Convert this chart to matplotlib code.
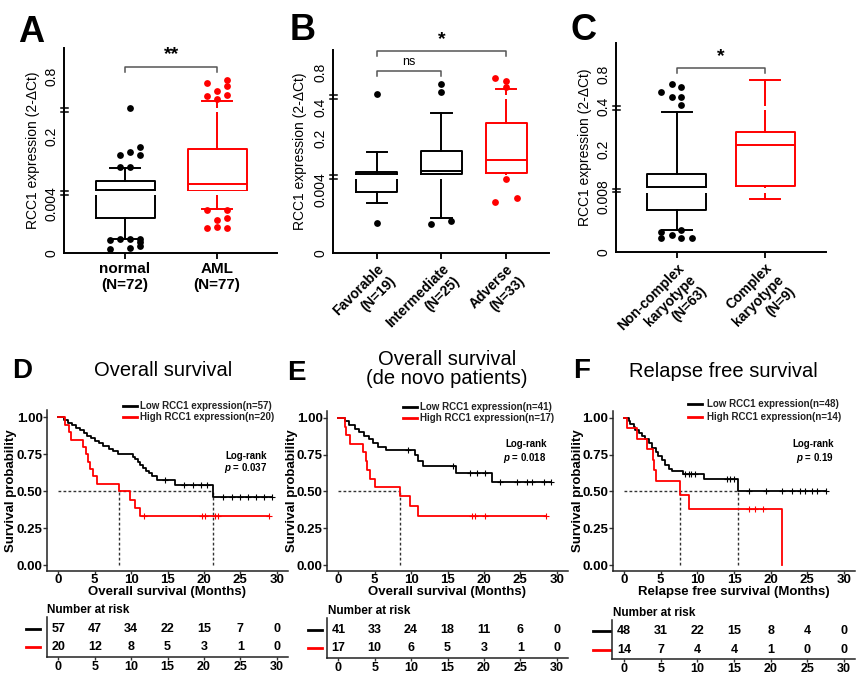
import numpy as np
import matplotlib
matplotlib.use('Agg')
import matplotlib.pyplot as plt
from matplotlib.lines import Line2D
from matplotlib.patches import Rectangle
from matplotlib.ticker import NullLocator
import matplotlib.transforms as mtransforms

plt.rcParams['font.family'] = ['Liberation Sans', 'DejaVu Sans']
plt.rcParams['mathtext.fontset'] = 'custom'
plt.rcParams['mathtext.it'] = 'Liberation Sans:italic:bold'
plt.rcParams['mathtext.rm'] = 'Liberation Sans:bold'

W, H = 865, 676
RED = '#ff0000'

# ---------------- box plots: RCC1 expression (2-dCt) ----------------
# summaries are [whislo, q1, med, q3, whishi]
a_groups = ['normal\n(N=72)', 'AML\n(N=77)']
a_normal = [0.00113, 0.00283, 0.0432, 0.0693, 0.107]
a_aml = [0.00353, 0.0412, 0.0598, 0.162, 0.55]
a_normal_out = [0.483, 0.169, 0.153, 0.145, 0.145, 0.111, 0.111,
                0.00111, 0.00111, 0.00111, 0.00105, 0.00091, 0.00057, 0.00038, 0.0003]
a_aml_out = [0.76, 0.727, 0.70, 0.653, 0.61, 0.603, 0.57,
             0.00347, 0.00347, 0.0028, 0.00267, 0.00213, 0.00204, 0.002]

b_groups = ['Favorable\n(N=19)', 'Intermediate\n(N=25)', 'Adverse\n(N=33)']
b_fav = [0.0032, 0.0039, 0.066, 0.073, 0.148]
b_int = [0.00224, 0.0643, 0.0768, 0.151, 0.363]
b_adv = [0.048, 0.067, 0.117, 0.299, 0.602]
b_fav_out = [0.545, 0.00193]
b_int_out = [0.663, 0.568, 0.00205, 0.00184]
b_adv_out = [0.728, 0.697, 0.625, 0.0459, 0.00351, 0.00326]

c_groups = ['Non-complex\nkaryotype\n(N=63)', 'Complex\nkaryotype\n(N=9)']
c_non = [0.0032, 0.00598, 0.0463, 0.101, 0.374]
c_cplx = [0.0076, 0.0517, 0.22, 0.28, 0.729]
c_non_out = [0.682, 0.640, 0.581, 0.514, 0.514, 0.42,
             0.0032, 0.00287, 0.00249, 0.00201, 0.00201, 0.00201]
c_cplx_out = []

# horizontal spread of the outlier dots (pixels), same order as above
a_normal_dx = [5, 15, 5, -5, 15, -5, 5, -5, 5, 15, -15, 15, 15, 5, -15]
a_aml_dx = [10, -10, 10, 0, 10, -10, 0, -10, 10, 10, 0, 0, 10, -10]
b_fav_dx = [0, 0]
b_int_dx = [0, 0, 10, -10]
b_adv_dx = [-11, 0, 0, 0, 11, -11]
c_non_dx = [-5, 4, -16, -5, 4, 4, 4, -16, -5, -16, 4, 15]
c_cplx_dx = []

# ---------------- Kaplan-Meier curves ----------------
# event times (months) and survival after each step
d_low_t = [0.8, 1.3, 1.9, 2.4, 3.0, 3.5, 4.0, 4.5, 5.0, 5.6, 6.2, 6.9, 7.5, 8.2,
           10.3, 10.6, 10.9, 11.2, 11.6, 12.0, 12.4, 12.9, 13.5, 16.0, 21.3]
d_low_s = [0.982, 0.965, 0.947, 0.930, 0.912, 0.895, 0.877, 0.860, 0.842, 0.825, 0.807,
           0.789, 0.772, 0.754, 0.735, 0.716, 0.697, 0.678, 0.659, 0.640, 0.621, 0.602,
           0.575, 0.545, 0.462]
d_low_cens = [14.6, 17.2, 18.5, 19.6, 20.4, 22.6, 23.8, 24.9, 26.0, 27.1, 28.2, 29.3]
d_high_t = [0.9, 1.5, 1.7, 3.4, 3.8, 4.1, 4.4, 4.8, 5.3, 8.4, 9.8, 10.5, 11.2]
d_high_s = [0.95, 0.90, 0.85, 0.80, 0.75, 0.70, 0.65, 0.60, 0.55, 0.50, 0.444, 0.389, 0.333]
d_high_cens = [11.8, 19.7, 20.2, 21.5, 22.0, 29.0]
d_risk_low = [57, 47, 34, 22, 15, 7, 0]
d_risk_high = [20, 12, 8, 5, 3, 1, 0]

e_low_t = [0.9, 1.5, 2.3, 2.9, 3.5, 4.2, 4.8, 5.5, 6.5, 10.5, 11.0, 11.7, 16.2, 21.1]
e_low_s = [0.976, 0.951, 0.927, 0.902, 0.878, 0.854, 0.829, 0.805, 0.780,
           0.745, 0.710, 0.675, 0.625, 0.562]
e_low_cens = [9.6, 15.8, 18.1, 19.0, 20.1, 22.2, 24.5, 25.9, 26.6, 28.2, 29.2]
e_high_t = [0.9, 1.1, 1.6, 3.4, 3.8, 4.0, 4.3, 5.0, 8.5, 9.8, 11.0]
e_high_s = [0.941, 0.882, 0.824, 0.765, 0.706, 0.647, 0.588, 0.529, 0.470, 0.403, 0.336]
e_high_cens = [18.3, 18.8, 20.1, 28.6]
e_risk_low = [41, 33, 24, 18, 11, 6, 0]
e_risk_high = [17, 10, 6, 5, 3, 1, 0]

f_low_t = [0.64, 0.86, 1.3, 1.55, 2.0, 2.45, 2.9, 3.4, 3.8, 4.3, 4.7, 5.2, 5.6, 6.1, 6.5,
           8.1, 10.9, 15.6]
f_low_s = [0.979, 0.958, 0.938, 0.917, 0.896, 0.875, 0.854, 0.827, 0.792, 0.767, 0.742,
           0.712, 0.681, 0.656, 0.637, 0.617, 0.585, 0.500]
f_low_cens = [8.3, 8.8, 9.2, 9.7, 14.0, 14.5, 15.0, 17.0, 19.3, 21.6, 22.9, 24.0, 24.7,
              25.6, 26.3, 27.5]
f_high_t = [0.4, 1.8, 3.1, 4.0, 4.1, 4.3, 7.7, 8.9, 21.6]
f_high_s = [0.929, 0.857, 0.786, 0.714, 0.643, 0.571, 0.476, 0.381, 0.0]
f_high_cens = [17.0, 17.9, 19.0]
f_risk_low = [48, 31, 22, 15, 8, 4, 0]
f_risk_high = [14, 7, 4, 4, 1, 0, 0]

risk_times = [0, 5, 10, 15, 20, 25, 30]


def frect(l, t, r, b):
    return [l / W, 1 - b / H, (r - l) / W, (b - t) / H]


def fpt(x, y):
    return x / W, 1 - y / H


fig = plt.figure(figsize=(W / 100, H / 100), dpi=100)


def seg_scale(kv, kp):
    # piecewise linear (segmented) axis like the GraphPad original
    kv = np.asarray(kv, float)
    kp = np.asarray(kp, float)
    s0 = (kp[1] - kp[0]) / (kv[1] - kv[0])
    s1 = (kp[-1] - kp[-2]) / (kv[-1] - kv[-2])
    kv = np.r_[kv[0] - 1, kv, kv[-1] + 10]
    kp = np.r_[kp[0] - s0, kp, kp[-1] + 10 * s1]
    return (lambda v: np.interp(v, kv, kp)), (lambda p: np.interp(p, kp, kv))


def box_panel(px, xlim, groups, boxes, colors, outs, dxs, knots, ticks, breaks,
              brackets, width, rotated, ylab_x):
    l, t, r, b = px
    ax = fig.add_axes(frect(l, t, r, b))
    fwd, inv = seg_scale(*knots)
    ax.set_yscale('function', functions=(fwd, inv))
    ax.set_xlim(*xlim)
    ax.set_ylim(0, knots[0][-1])
    sp = (r - l) / (xlim[1] - xlim[0])
    pos = np.arange(1, len(groups) + 1)
    for p, st, c, o, dx in zip(pos, boxes, colors, outs, dxs):
        d = dict(whislo=st[0], q1=st[1], med=st[2], q3=st[3], whishi=st[4], fliers=[])
        lp = dict(color=c, lw=1.4)
        ax.bxp([d], positions=[p], widths=width, showfliers=False, manage_ticks=False,
               boxprops=lp, whiskerprops=lp, capprops=lp, medianprops=lp)
        if len(o):
            ax.scatter(p + np.array(dx) / sp, o, s=24, color=c, lw=0, zorder=4, clip_on=False)
    hpx = b - t
    for f in breaks:
        ax.add_patch(Rectangle((0, f - 2.4 / hpx), 1, 4.8 / hpx, transform=ax.transAxes,
                               facecolor='white', edgecolor='none', zorder=2.3))
        for dy in (-1.7, 1.7):
            ax.add_line(Line2D([-3.5 / (r - l), 3.5 / (r - l)], [f + dy / hpx] * 2,
                               transform=ax.transAxes, color='black', lw=1.1,
                               clip_on=False, zorder=5))
    for s in ('top', 'right'):
        ax.spines[s].set_visible(False)
    for s in ('left', 'bottom'):
        ax.spines[s].set_linewidth(1.4)
    ax.set_yticks(ticks[0], labels=ticks[1])
    ax.yaxis.set_minor_locator(NullLocator())
    for lab in ax.get_yticklabels():
        lab.set_rotation(90)
        lab.set_va('center')
        lab.set_ha('right')
        lab.set_fontsize(10)
    ax.tick_params(axis='y', length=0, pad=4)
    ax.tick_params(axis='x', length=4, width=1.3, pad=2.5)
    ax.set_xticks(pos)
    if rotated:
        ax.set_xticklabels(groups, rotation=45, ha='right', va='top', rotation_mode='anchor',
                           ma='right', fontsize=10, fontweight='bold')
    else:
        ax.set_xticklabels(groups, fontsize=11, fontweight='bold')
    ax.set_ylabel('RCC1 expression (2-\u0394Ct)', fontsize=10, va='center')
    ax.yaxis.set_label_coords((ylab_x - l) / (r - l), 0.5)
    tr = mtransforms.blended_transform_factory(ax.transData, ax.transAxes)
    for i, j, yb, txt, yt, fs in brackets:
        tick = 5 / hpx
        ax.plot([pos[i], pos[i], pos[j], pos[j]], [yb - tick, yb, yb, yb - tick],
                transform=tr, color='#555555', lw=1.1, clip_on=False)
        ax.text((pos[i] + pos[j]) / 2, yt, txt, transform=tr, ha='center', va='center',
                fontsize=fs, fontweight='bold' if txt != 'ns' else 'normal')
    return ax


box_panel((64, 48, 277, 253), (0.337, 2.65), a_groups, [a_normal, a_aml], ['black', RED],
          [a_normal_out, a_aml_out], [a_normal_dx, a_aml_dx],
          ([0, 0.004, 0.2, 0.8, 1.08], [0, 49.5, 117, 177, 205]),
          ([0, 0.004, 0.2, 0.8], ['0', '0.004', '0.2', '0.8']),
          [60 / 205, 143 / 205],
          [(0, 1, 0.909, '**', 0.966, 14)], 0.64, False, 33)

box_panel((333, 50, 549, 253), (0.325, 3.66), b_groups, [b_fav, b_int, b_adv],
          ['black', 'black', RED], [b_fav_out, b_int_out, b_adv_out],
          [b_fav_dx, b_int_dx, b_adv_dx],
          ([0, 0.004, 0.2, 0.4, 0.8, 1.05], [0, 63, 115, 146, 181, 203]),
          ([0, 0.004, 0.2, 0.4, 0.8], ['0', '0.004', '0.2', '0.4', '0.8']),
          [76 / 203, 156 / 203],
          [(0, 1, 0.898, 'ns', 0.943, 9), (0, 2, 0.997, '*', 1.052, 14)], 0.63, True, 300)

box_panel((616, 43, 826, 252), (0.313, 2.687), c_groups, [c_non, c_cplx], ['black', RED],
          [c_non_out, c_cplx_out], [c_non_dx, c_cplx_dx],
          ([0, 0.008, 0.2, 0.4, 0.8, 1.2], [0, 55.7, 102.3, 145.7, 177.3, 209]),
          ([0, 0.008, 0.2, 0.4, 0.8], ['0', '0.008', '0.2', '0.4', '0.8']),
          [61.7 / 209, 144 / 209],
          [(0, 1, 0.880, '*', 0.937, 14)], 0.67, True, 585)


def km_curve(ax, t, s, end, cens, color):
    tt = np.r_[0, t, end]
    ss = np.r_[1, s, s[-1]]
    ax.step(tt, ss, where='post', color=color, lw=1.3, zorder=3)
    cs = np.asarray(cens)
    if len(cs):
        idx = np.searchsorted(tt, cs, side='right') - 1
        ax.plot(cs, ss[idx], ls='none', marker='+', ms=4, mew=0.8, color=color, zorder=3)
    for ti, si in zip(t, s):
        if si <= 0.5 + 1e-9:
            return ti
    return None


def km_panel(cfg):
    l, t, r, b = cfg['px']
    ax = fig.add_axes(frect(l, t, r, b))
    ax.set_xlim(-1.5, 31.5)
    ax.set_ylim(-0.04, 1.05)
    meds = []
    for (tt, ss, end, cens, col) in cfg['curves']:
        m = km_curve(ax, tt, ss, end, cens, col)
        if m is not None:
            meds.append(m)
    if meds:
        ax.plot([0, max(meds)], [0.5, 0.5], color='#333333', lw=1, ls=(0, (2, 1.6)), zorder=2)
        for m in meds:
            ax.plot([m, m], [0, 0.5], color='#333333', lw=1, ls=(0, (2, 1.6)), zorder=2)
    for s in ('top', 'right'):
        ax.spines[s].set_visible(False)
    for s in ('left', 'bottom'):
        ax.spines[s].set_linewidth(1.1)
        ax.spines[s].set_color('#222222')
    ax.set_xticks(risk_times)
    ax.set_yticks([0, 0.25, 0.5, 0.75, 1.0], labels=['0.00', '0.25', '0.50', '0.75', '1.00'])
    ax.tick_params(length=3, width=1, color='#333333', labelsize=9.5, pad=0.5)
    ax.tick_params(axis='x', length=2, pad=0)
    for lab in ax.get_xticklabels() + ax.get_yticklabels():
        lab.set_fontweight('bold')
    ax.set_xlabel(cfg['xlabel'], fontsize=9.5, fontweight='bold', va='center')
    ax.xaxis.set_label_coords(0.5, (b - 592) / (b - t))
    ax.set_ylabel('Survival probability', fontsize=9.5, fontweight='bold', va='center')
    ax.yaxis.set_label_coords((cfg['ylab_x'] - l) / (r - l), 0.5)

    # legend above the plot
    lx0, lx1, tx, y1, y2 = cfg['legend']
    for yy, col, txt in ((y1, 'black', cfg['leg'][0]), (y2, RED, cfg['leg'][1])):
        fig.add_artist(Line2D([lx0 / W, lx1 / W], [1 - yy / H] * 2, color=col, lw=2))
        fig.text(*fpt(tx, yy), txt, fontsize=7, fontweight='bold', color='#222222',
                 ha='left', va='center')
    rx, ry1, ry2 = cfg['logrank']
    fig.text(*fpt(rx, ry1), 'Log-rank', fontsize=7, fontweight='bold', ha='right', va='center')
    fig.text(*fpt(rx, ry2), r'$\mathit{p}$ = ' + cfg['p'], fontsize=7, fontweight='bold',
             ha='right', va='center')
    fig.text(*fpt(*cfg['title_xy']), cfg['title'], fontsize=14.5, ha='center', va='center',
             linespacing=1.05)
    fig.text(*fpt(*cfg['letter']), cfg['tag'], fontsize=20, fontweight='bold',
             ha='left', va='baseline')

    # number at risk table
    tl, tt_, tr_, tb = cfg['tpx']
    tax = fig.add_axes(frect(tl, tt_, tr_, tb))
    x0 = -1.5 + (tl - l) / ((r - l) / 33.0)
    tax.set_xlim(x0, 31.5)
    tax.set_ylim(-0.514, 1.656)
    for xi, nl, nh in zip(risk_times, cfg['risk'][0], cfg['risk'][1]):
        tax.text(xi, 1, str(nl), ha='center', va='center', fontsize=9, fontweight='bold')
        tax.text(xi, 0, str(nh), ha='center', va='center', fontsize=9, fontweight='bold')
    for s in ('top', 'right'):
        tax.spines[s].set_visible(False)
    for s in ('left', 'bottom'):
        tax.spines[s].set_linewidth(1.1)
        tax.spines[s].set_color('#222222')
    tax.set_yticks([])
    tax.set_xticks(risk_times)
    tax.tick_params(axis='x', length=2.5, width=1, color='#333333', labelsize=9, pad=0.5)
    for lab in tax.get_xticklabels():
        lab.set_fontweight('bold')
    d0, d1 = cfg['dash']
    trd = mtransforms.blended_transform_factory(fig.transFigure, tax.transData)
    for yy, col in ((1, 'black'), (0, RED)):
        tax.add_line(Line2D([d0 / W, d1 / W], [yy, yy], transform=trd, color=col, lw=2,
                            clip_on=False))
    fig.text(*fpt(*cfg['nar']), 'Number at risk', fontsize=8.5, fontweight='bold',
             ha='left', va='center')


km_panel(dict(px=(47.4, 410, 287.6, 571), tpx=(46.7, 617, 287.6, 656.7),
              curves=[(d_low_t, d_low_s, 29.3, d_low_cens, 'black'),
                      (d_high_t, d_high_s, 29.0, d_high_cens, RED)],
              risk=(d_risk_low, d_risk_high), xlabel='Overall survival (Months)',
              ylab_x=11.2, legend=(123, 137, 140, 406, 417.3),
              leg=('Low RCC1 expression(n=57)', 'High RCC1 expression(n=20)'),
              logrank=(267, 456, 468.3), p='0.037', title='Overall survival',
              title_xy=(163, 370), letter=(12, 378), tag='D', dash=(26, 40),
              nar=(47.3, 610)))

km_panel(dict(px=(327.4, 410.5, 567.6, 571), tpx=(327, 618, 567.6, 657.5),
              curves=[(e_low_t, e_low_s, 29.2, e_low_cens, 'black'),
                      (e_high_t, e_high_s, 28.6, e_high_cens, RED)],
              risk=(e_risk_low, e_risk_high), xlabel='Overall survival (Months)',
              ylab_x=291.5, legend=(403, 417, 420, 407.3, 418.3),
              leg=('Low RCC1 expression(n=41)', 'High RCC1 expression(n=17)'),
              logrank=(546.7, 444, 458.3), p='0.018',
              title='Overall survival\n(de novo patients)',
              title_xy=(446.7, 369), letter=(287, 380), tag='E', dash=(308, 322),
              nar=(328.3, 611)))

km_panel(dict(px=(613, 410.5, 855, 571), tpx=(612, 619.5, 855, 659),
              curves=[(f_low_t, f_low_s, 27.5, f_low_cens, 'black'),
                      (f_high_t, f_high_s, 21.6, f_high_cens, RED)],
              risk=(f_risk_low, f_risk_high), xlabel='Relapse free survival (Months)',
              ylab_x=578, legend=(688, 702, 706.7, 404, 416.7),
              leg=('Low RCC1 expression(n=48)', 'High RCC1 expression(n=14)'),
              logrank=(834, 444, 458.3), p='0.19', title='Relapse free survival',
              title_xy=(723.3, 371.7), letter=(573, 378), tag='F', dash=(593, 610),
              nar=(613.3, 612.7)))

for tag, x, y in (('A', 18, 42), ('B', 290, 40), ('C', 570, 40)):
    fig.text(*fpt(x, y), tag, fontsize=26, fontweight='bold', ha='left', va='baseline')

fig.savefig('out.png', dpi=100)
